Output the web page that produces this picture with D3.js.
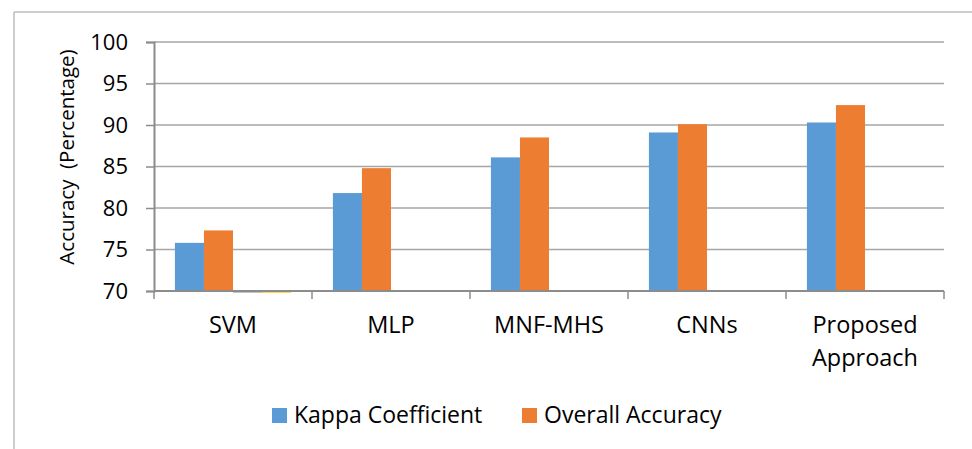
<!DOCTYPE html>
<html>
<head>
<meta charset="utf-8">
<script src="https://cdn.jsdelivr.net/npm/d3@7"></script>
<style>
  html, body { margin: 0; padding: 0; background: #fff; }
  svg { display: block; font-family: "Open Sans", sans-serif; }
</style>
</head>
<body>
<svg id="chart" width="972" height="449"></svg>
<script>
// Classification methods along the x axis
const categories = ["SVM", "MLP", "MNF-MHS", "CNNs", "Proposed Approach"];
// Series values (percent)
const kappa   = [75.8, 81.8, 86.1, 89.1, 90.3];
const overall = [77.3, 84.8, 88.5, 90.1, 92.4];
// Two unnamed empty series that only show as slivers under the SVM group
const series3 = [69.8, null, null, null, null];
const series4 = [69.8, null, null, null, null];
const yTicks = [70, 75, 80, 85, 90, 95, 100];

const seriesNames = ["Kappa Coefficient", "Overall Accuracy", "Series3", "Series4"];
const seriesValues = [kappa, overall, series3, series4];
const colors = ["#5B9BD5", "#ED7D31", "#A5A5A5", "#FFC000"];
const legendNames = ["Kappa Coefficient", "Overall Accuracy"];

const svg = d3.select("#chart");
const W = 972, H = 449;

// outer frame (top and left edges visible)
svg.append("line").attr("x1", 14).attr("x2", W).attr("y1", 12).attr("y2", 12)
  .attr("stroke", "#bdbdbd").attr("stroke-width", 1.5);
svg.append("line").attr("x1", 14).attr("x2", 14).attr("y1", 12).attr("y2", H)
  .attr("stroke", "#bdbdbd").attr("stroke-width", 1.5);

const plot = { left: 154, right: 944, top: 42, bottom: 291 };

const x0 = d3.scaleBand().domain(categories).range([plot.left, plot.right]).padding(0);
const x1 = d3.scaleBand().domain(seriesNames).range([0, x0.bandwidth()])
  .paddingInner(0).paddingOuter(0.72);
const y = d3.scaleLinear().domain([70, 100]).range([plot.bottom, plot.top]);
const color = d3.scaleOrdinal().domain(seriesNames).range(colors);

// horizontal gridlines
svg.append("g").selectAll("line").data(yTicks.filter(t => t > 70)).join("line")
  .attr("x1", plot.left).attr("x2", plot.right)
  .attr("y1", d => y(d)).attr("y2", d => y(d))
  .attr("stroke", "#a6a6a6").attr("stroke-width", 1.5);

// y axis
const yAxis = svg.append("g").attr("transform", `translate(${plot.left},0)`)
  .call(d3.axisLeft(y).tickValues(yTicks).tickSize(8).tickPadding(18).tickFormat(d3.format("d")));
yAxis.select(".domain").attr("stroke", "#8c8c8c").attr("stroke-width", 2);
yAxis.selectAll(".tick line").attr("stroke", "#8c8c8c").attr("stroke-width", 1.5);
yAxis.selectAll(".tick text").attr("font-size", 22).attr("fill", "#000")
  .attr("font-family", "Open Sans, sans-serif");

// bars
const rows = categories.map((c, i) => ({ cat: c, vals: seriesNames.map((s, j) => ({ s, v: seriesValues[j][i] })) }));
svg.append("g").selectAll("g").data(rows).join("g")
  .attr("transform", d => `translate(${x0(d.cat)},0)`)
  .selectAll("rect").data(d => d.vals.filter(v => v.v != null)).join("rect")
  .attr("x", d => x1(d.s))
  .attr("width", x1.bandwidth())
  .attr("y", d => Math.min(y(d.v), y(70)))
  .attr("height", d => Math.abs(y(70) - y(d.v)))
  .attr("fill", d => color(d.s));

// x axis with ticks at group boundaries
const xAxisG = svg.append("g");
xAxisG.append("line").attr("x1", plot.left).attr("x2", plot.right)
  .attr("y1", y(70)).attr("y2", y(70)).attr("stroke", "#8c8c8c").attr("stroke-width", 2);
const bounds = categories.map(c => x0(c)).concat([x0(categories[categories.length - 1]) + x0.bandwidth()]);
xAxisG.selectAll("line.tk").data(bounds).join("line").attr("class", "tk")
  .attr("x1", d => d).attr("x2", d => d)
  .attr("y1", y(70)).attr("y2", y(70) + 8)
  .attr("stroke", "#8c8c8c").attr("stroke-width", 1.5);

// category labels (wrapped onto two lines where needed)
const labelLines = { "Proposed Approach": ["Proposed", "Approach"] };
const xl = svg.append("g").selectAll("text").data(categories).join("text")
  .attr("x", d => x0(d) + x0.bandwidth() / 2)
  .attr("y", 333)
  .attr("text-anchor", "middle").attr("font-size", 23.5).attr("fill", "#000");
xl.each(function (d) {
  const lines = labelLines[d] || [d];
  d3.select(this).selectAll("tspan").data(lines).join("tspan")
    .attr("x", x0(d) + x0.bandwidth() / 2)
    .attr("dy", (l, i) => i === 0 ? 0 : 33)
    .text(l => l);
});

// y axis title
svg.append("text")
  .attr("transform", "translate(74,157) rotate(-90)")
  .attr("text-anchor", "middle").attr("font-size", 20.5).attr("fill", "#000")
  .attr("xml:space", "preserve")
  .text("Accuracy  (Percentage)");

// legend
const legendX = [272, 522];
const lg = svg.append("g").selectAll("g").data(legendNames).join("g")
  .attr("transform", (d, i) => `translate(${legendX[i]},408)`);
lg.append("rect").attr("width", 15).attr("height", 15).attr("fill", d => color(d));
lg.append("text").attr("x", 22).attr("y", 15).attr("font-size", 23).attr("fill", "#000").text(d => d);
</script>
</body>
</html>
